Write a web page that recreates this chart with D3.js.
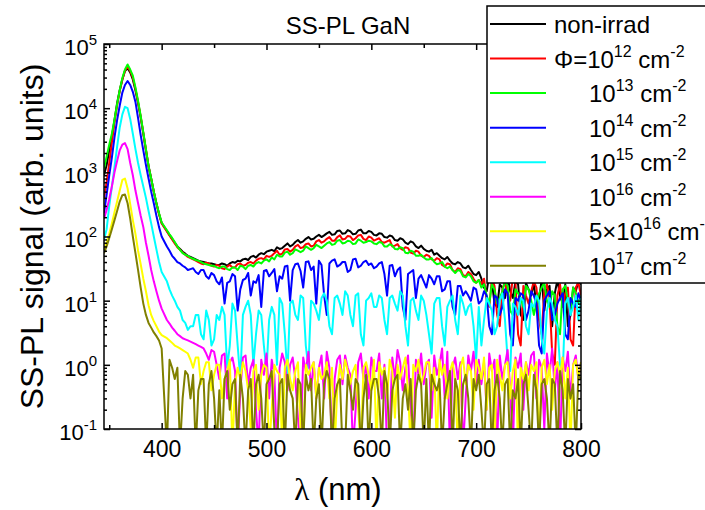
<!DOCTYPE html>
<html>
<head>
<meta charset="utf-8">
<script src="https://cdn.jsdelivr.net/npm/d3@7"></script>
<style>
  body { margin: 0; background: #fff; }
  svg { font-family: "Liberation Sans", Arial, sans-serif; }
</style>
</head>
<body>
<div id="chart"></div>
<script>

// wavelength grid (nm)
var wavelength = [
  345, 347.5, 350, 352.5, 355, 357.5, 360, 362.5, 365, 367.5, 370, 372.5, 375, 377.5, 380, 382.5, 385, 387.5, 390, 392.5, 395, 397.5, 400,
  405, 407.5, 410, 412.5, 415, 417.5, 420, 422.5, 425, 427.5, 430, 432.5, 435, 437.5, 440, 442.5, 445, 447.5, 450, 452.5,
  455, 457.5, 460, 462.5, 465, 467.5, 470, 472.5, 475, 477.5, 480, 482.5, 485, 487.5, 490, 492.5, 495, 497.5, 500, 502.5,
  505, 507.5, 510, 512.5, 515, 517.5, 520, 522.5, 525, 527.5, 530, 532.5, 535, 537.5, 540, 542.5, 545, 547.5, 550, 552.5,
  555, 557.5, 560, 562.5, 565, 567.5, 570, 572.5, 575, 577.5, 580, 582.5, 585, 587.5, 590, 592.5, 595, 597.5, 600, 602.5,
  605, 607.5, 610, 612.5, 615, 617.5, 620, 622.5, 625, 627.5, 630, 632.5, 635, 637.5, 640, 642.5, 645, 647.5, 650, 652.5,
  655, 657.5, 660, 662.5, 665, 667.5, 670, 672.5, 675, 677.5, 680, 682.5, 685, 687.5, 690, 692.5, 695, 697.5, 700, 702.5,
  705, 707.5, 710, 712.5, 715, 717.5, 720, 722.5, 725, 727.5, 730, 732.5, 735, 737.5, 740, 742.5, 745, 747.5, 750, 752.5,
  755, 757.5, 760, 762.5, 765, 767.5, 770, 772.5, 775, 777.5, 780, 782.5, 785, 787.5, 790, 792.5, 795, 797.5, 800
];

// SS-PL signal (arb. units); values under 0.1 are off the bottom of the axis
var nonIrrad = [
  900, 1300, 2200, 3600, 6500, 12000, 19000, 28000, 38000, 42000, 36000, 28000, 19000, 12000, 7200, 4000, 2200, 1250, 800, 500, 330, 225, 162,
  122, 105, 92, 80, 70, 64, 58, 54, 50, 48, 46, 44, 42, 41, 40, 39, 38, 38, 37, 36,
  36, 38, 37, 35, 38, 40, 39, 42, 41, 44, 45, 43, 48, 50, 47, 52, 55, 53, 58, 60,
  62, 59, 68, 64, 66, 72, 78, 70, 74, 82, 88, 80, 84, 92, 98, 90, 92, 100, 106, 98,
  104, 112, 118, 106, 108, 122, 124, 110, 112, 126, 120, 108, 110, 124, 128, 112, 112, 122, 118, 106,
  104, 112, 110, 98, 96, 104, 100, 88, 86, 94, 90, 80, 76, 84, 80, 70, 66, 72, 64, 60,
  58, 62, 52, 55, 50, 46, 44, 48, 42, 38, 37, 40, 38, 33, 32, 35, 30, 26, 25, 28,
  22, 16, 14, 25, 20, 9, 8, 18, 16, 11, 24, 14, 11, 20, 18, 6, 5, 19, 15, 12,
  19, 8, 10, 22, 7, 15, 17, 4, 13, 21, 12, 9, 18, 4, 6, 16, 14, 20, 18
];
var phi12 = [
  400, 700, 1400, 2900, 6000, 11000, 18500, 28000, 38500, 45000, 38000, 30000, 20000, 12500, 7400, 4100, 2250, 1250, 790, 495, 325, 225, 160,
  120, 104, 90, 78, 68, 62, 56, 52, 48, 46, 44, 42, 40, 38, 37, 39, 38, 35, 34, 36,
  35, 32, 31, 34, 36, 33, 33, 37, 38, 35, 36, 39, 40, 38, 42, 45, 46, 44, 50, 48,
  50, 55, 60, 52, 54, 63, 64, 58, 62, 70, 74, 66, 68, 76, 78, 70, 72, 84, 88, 80,
  84, 92, 98, 86, 86, 98, 104, 90, 92, 102, 100, 88, 94, 104, 106, 92, 88, 100, 96, 86,
  90, 94, 82, 80, 84, 88, 70, 72, 76, 66, 62, 68, 66, 56, 54, 60, 58, 50, 48, 52,
  50, 44, 42, 46, 44, 36, 34, 38, 37, 30, 28, 32, 31, 25, 24, 28, 26, 22, 19, 21,
  18, 22, 10, 8, 22, 17, 6, 4, 15, 20, 12, 10, 24, 19, 3, 2, 17, 12, 9, 14,
  20, 16, 5, 3, 14, 18, 11, 1.5, 1, 12, 18, 8, 13, 16, 2.5, 2, 16, 19, 12
];
var phi13 = [
  1150, 1750, 2700, 4000, 6600, 11500, 19000, 29500, 40000, 48000, 40000, 32000, 21000, 13000, 7600, 4200, 2300, 1250, 800, 500, 330, 230, 165,
  125, 108, 95, 82, 70, 62, 55, 52, 50, 47, 45, 43, 42, 40, 38, 37, 36, 35, 35, 33,
  32, 34, 34, 31, 30, 33, 33, 30, 35, 34, 31, 35, 36, 34, 38, 40, 38, 42, 44, 41,
  47, 44, 52, 49, 49, 56, 58, 52, 55, 63, 60, 57, 60, 70, 66, 62, 66, 74, 70, 66,
  72, 78, 82, 74, 76, 86, 88, 78, 80, 86, 84, 76, 78, 90, 86, 80, 82, 86, 84, 78,
  76, 82, 80, 70, 70, 76, 72, 64, 63, 68, 66, 56, 55, 60, 58, 50, 50, 52, 47, 44,
  44, 46, 40, 37, 38, 40, 34, 32, 34, 30, 27, 30, 29, 24, 23, 26, 24, 20, 19, 21,
  16, 18, 12, 9, 18, 15, 9, 11, 14, 20, 17, 7, 6, 15, 13, 11, 8, 17, 15, 10,
  6, 9, 13, 16, 19, 10, 8, 14, 12, 4, 3, 15, 17, 10, 7, 16, 13, 9, 12
];
var phi14 = [
  230, 450, 900, 1700, 3500, 6500, 11000, 17500, 23000, 26500, 23000, 18000, 12500, 7000, 3800, 2200, 1300, 800, 500, 330, 210, 140, 100,
  70, 60, 50, 45, 40, 38, 35, 33, 30, 31, 32, 28, 26, 30, 30, 24, 22, 27, 25, 20,
  18, 23, 9, 19, 20, 26, 24, 7, 15, 21, 22, 27, 12, 20, 19, 25, 8, 29, 30, 24,
  27, 31, 14, 24, 22, 34, 35, 10, 30, 37, 38, 29, 16, 40, 41, 30, 34, 9, 42, 36,
  12, 6, 38, 42, 44, 34, 36, 40, 40, 28, 30, 44, 45, 33, 35, 40, 42, 36, 38, 32,
  34, 38, 40, 26, 12, 35, 36, 24, 30, 33, 8, 5, 26, 28, 30, 11, 22, 25, 20, 16,
  25, 22, 18, 24, 24, 14, 15, 20, 20, 8, 6, 17, 17, 12, 14, 12, 10, 16, 15, 9,
  10, 14, 12, 4, 3, 12, 11, 6, 8, 15, 13, 3, 2, 11, 10, 13, 12, 5, 7, 14,
  12, 9, 2, 1.5, 10, 12, 14, 5, 6, 9, 11, 13, 3, 2.5, 11, 9, 8, 13, 10
];
var phi15 = [
  90, 130, 300, 600, 1200, 2500, 5000, 8000, 10500, 10000, 6800, 4000, 2300, 1400, 900, 600, 400, 250, 160, 100, 63, 40, 28,
  20, 15, 12, 10, 8, 7, 5, 4.5, 3.5, 4, 4, 6, 6, 3, 2.5, 7, 5, 2, 2.5, 6,
  5, 8, 6, 0.9, 2, 9, 7, 2, 0.6, 6, 8, 10, 6, 1, 3, 7, 6, 2, 0.8, 5,
  8, 6, 1, 11, 9, 3, 0.7, 9, 10, 6, 5, 12, 11, 2, 0.9, 10, 9, 7, 5, 11,
  13, 10, 4, 3, 11, 12, 9, 6, 14, 12, 6, 4, 12, 13, 3, 2, 10, 11, 13, 8,
  8, 12, 11, 5, 3, 11, 12, 9, 7, 14, 12, 4, 2, 10, 11, 7, 5, 12, 10, 6,
  3, 1.5, 9, 11, 11, 4, 2, 8, 10, 12, 5, 3, 12, 9, 6, 8, 9, 4, 1.2, 8,
  2, 5, 11, 9, 7, 3, 4, 10, 13, 5, 1.2, 0.8, 9, 8, 6, 11, 10, 4, 3, 9,
  8, 12, 10, 2.5, 1.5, 7, 11, 9, 5, 4, 1, 0.7, 9, 11, 6, 8, 12, 5, 11
];
var phi16 = [
  190, 260, 380, 600, 1000, 1500, 2200, 2700, 2850, 2300, 1400, 900, 520, 330, 210, 140, 80, 50, 30, 20, 14, 10, 7.5,
  5, 4.4, 3.8, 3.4, 3, 2.8, 2.6, 2.5, 2.4, 2.3, 2.2, 2.1, 2.0, 1.9, 1.8, 1.5, 1.2, 1.7, 1.6, 1.0,
  0.6, 1.4, 1.5, 0.3, 1.1, 1.3, 0.8, 0.05, 0.4, 1.3, 1.4, 0.5, 0.9, 1.2, 0.2, 0.05, 1.2, 0.7, 1.5, 0.3,
  1.2, 0.7, 0.05, 0.9, 1.5, 1.1, 0.4, 1.0, 1.3, 0.6, 0.15, 0.05, 1.3, 0.8, 1.6, 0.4, 1.1, 0.3, 0.9, 1.4,
  0.3, 1.6, 0.9, 0.05, 0.6, 1.2, 1.4, 0.5, 1.4, 0.9, 0.7, 0.05, 0.2, 1.1, 1.5, 0.6, 1.0, 0.3, 1.3, 0.8,
  0.8, 1.5, 0.3, 1.0, 0.05, 0.1, 1.3, 0.6, 1.7, 1.1, 0.4, 0.9, 1.4, 0.2, 0.05, 1.2, 0.7, 1.5, 0.5, 1.0,
  1.2, 0.15, 1.4, 0.7, 1.0, 1.8, 0.3, 1.6, 0.05, 0.9, 1.3, 0.6, 1.1, 0.05, 0.3, 1.4, 0.8, 1.6, 0.5, 1.2,
  0.5, 1.1, 0.2, 1.5, 0.8, 1.2, 0.05, 1.4, 0.6, 1.0, 1.7, 0.4, 0.05, 1.3, 0.9, 1.5, 0.2, 1.1, 0.7, 1.4,
  1.6, 0.3, 1.2, 0.9, 0.1, 1.5, 0.7, 1.8, 0.4, 1.1, 0.05, 1.3, 0.8, 1.6, 0.3, 1.0, 1.4, 0.6, 1.1
];
var phi5x16 = [
  60, 80, 110, 160, 240, 350, 520, 760, 800, 560, 320, 180, 110, 60, 37, 22, 14, 8.5, 6, 4.8, 4, 3.3, 2.9,
  2.6, 2.4, 2.2, 2.0, 1.9, 1.8, 1.7, 1.6, 1.5, 1.2, 0.9, 1.3, 1.3, 0.5, 0.8, 1.1, 1.1, 0.4, 0.7, 1.0,
  1.0, 0.3, 0.6, 0.8, 1.2, 0.05, 0.5, 0.9, 0.6, 1.1, 0.8, 0.4, 0.1, 0.8, 1.0, 0.2, 0.7, 1.0, 0.9, 0.05,
  0.2, 1.0, 0.8, 0.7, 0.05, 0.9, 1.2, 0.6, 0.4, 0.8, 1.1, 0.1, 0.05, 1.0, 0.7, 0.9, 1.1, 0.3, 0.9, 0.6,
  0.7, 1.1, 0.3, 0.9, 0.05, 0.4, 1.0, 0.6, 1.2, 0.8, 0.5, 0.8, 1.0, 0.2, 0.05, 0.9, 1.1, 0.7, 0.4, 1.2,
  0.05, 1.1, 0.7, 0.9, 0.3, 1.2, 0.8, 0.15, 1.0, 0.6, 0.9, 1.3, 0.4, 0.05, 1.0, 0.8, 1.2, 0.5, 0.7, 1.1,
  1.1, 0.4, 0.9, 0.05, 1.2, 0.7, 1.0, 0.3, 0.8, 1.1, 0.6, 0.05, 0.9, 1.3, 0.5, 1.0, 0.8, 0.2, 1.2, 0.9,
  0.6, 1.3, 0.2, 0.9, 1.0, 0.05, 1.2, 0.7, 0.4, 1.0, 1.1, 0.3, 0.8, 1.2, 0.05, 0.9, 0.6, 1.1, 0.4, 1.0,
  0.8, 1.1, 0.05, 0.9, 1.2, 0.5, 1.0, 0.2, 0.8, 1.1, 0.7, 1.3, 0.3, 0.9, 0.05, 1.0, 1.2, 0.6, 1.1
];
var phi17 = [
  55, 70, 95, 130, 180, 250, 350, 440, 450, 330, 190, 100, 55, 30, 16, 9, 6, 4.5, 3.8, 3.2, 2.8, 2.4, 1.8,
  0.05, 1.2, 0.9, 0.6, 0.9, 0.05, 0.3, 0.8, 0.7, 0.3, 0.7, 0.05, 0.4, 0.6, 0.6, 0.05, 0.5, 0.8, 0.3, 0.05,
  0.4, 0.05, 0.6, 0.8, 0.2, 0.5, 0.6, 0.05, 0.7, 0.3, 0.05, 0.4, 0.6, 0.05, 0.5, 0.7, 0.3, 0.05, 0.5, 0.6,
  0.8, 0.1, 0.05, 0.5, 0.6, 0.05, 0.7, 0.4, 0.3, 0.05, 0.6, 0.5, 0.05, 0.7, 0.4, 0.6, 0.05, 0.3, 0.5, 0.05,
  0.5, 0.8, 0.6, 0.05, 0.3, 0.5, 0.6, 0.05, 0.05, 0.7, 0.4, 0.2, 0.6, 0.5, 0.05, 0.3, 0.7, 0.05, 0.4, 0.6,
  0.6, 0.3, 0.05, 0.8, 0.5, 0.05, 0.4, 0.6, 0.7, 0.05, 0.3, 0.5, 0.2, 0.6, 0.05, 0.4, 0.7, 0.5, 0.05, 0.6,
  0.05, 0.7, 0.5, 0.4, 0.6, 0.05, 0.3, 0.5, 0.8, 0.05, 0.6, 0.4, 0.05, 0.5, 0.7, 0.3, 0.05, 0.6, 0.4, 0.7,
  0.2, 0.05, 0.5, 0.6, 0.05, 0.4, 0.7, 0.3, 0.05, 0.5, 0.6, 0.05, 0.4, 0.3, 0.6, 0.05, 0.5, 0.7, 0.2, 0.05,
  0.7, 0.4, 0.05, 0.5, 0.6, 0.3, 0.05, 0.6, 0.5, 0.05, 0.8, 0.4, 0.05, 0.6, 0.3, 0.5, 0.05, 0.7, 0.6
];

var seriesValues = [nonIrrad, phi12, phi13, phi14, phi15, phi16, phi5x16, phi17];
var seriesNames = ["non-irrad", "Φ=10^{12} cm^{-2}", "10^{13} cm^{-2}", "10^{14} cm^{-2}",
                   "10^{15} cm^{-2}", "10^{16} cm^{-2}", "5×10^{16} cm^{-2}", "10^{17} cm^{-2}"];
var seriesColors = ["#000000", "#ff0000", "#00ff00", "#0000ff", "#00ffff", "#ff00ff", "#ffff00", "#808000"];

var xTicks = [400, 500, 600, 700, 800];
var xMinorTicks = [350, 450, 550, 650, 750];
var yTicks = [0.1, 1, 10, 100, 1000, 10000, 100000];
var yTickLabels = ["10^{-1}", "10^{0}", "10^{1}", "10^{2}", "10^{3}", "10^{4}", "10^{5}"];

var margin = {top: 44, right: 124, bottom: 81, left: 104};
var width = 705 - margin.left - margin.right,
    height = 510 - margin.top - margin.bottom;

var svg = d3.select("#chart").append("svg")
    .attr("width", 705)
    .attr("height", 510);

var g = svg.append("g")
    .attr("transform", "translate(" + margin.left + "," + margin.top + ")");

var x = d3.scaleLinear().domain([345, 800]).range([0, width]);
var y = d3.scaleLog().domain([0.1, 1e5]).range([height, 0]);

// writes "10^{5}" style strings as tspans with superscripts
function richText(sel, str, size, supSize, raise) {
  var parts = str.split(/(\^\{[^}]*\})/);
  var up = false;
  sel.text(null).style("font-size", size + "px");
  parts.forEach(function(p) {
    if (!p) return;
    if (p.charAt(0) === "^") {
      sel.append("tspan").attr("dy", -raise).style("font-size", supSize + "px").text(p.slice(2, -1));
      up = true;
    } else {
      var t = sel.append("tspan").text(p);
      if (up) { t.attr("dy", raise); up = false; }
    }
  });
}

g.append("clipPath").attr("id", "plotclip")
  .append("rect").attr("width", width).attr("height", height);

var line = d3.line()
  .defined(function(d) { return d[1] != null; })
  .x(function(d) { return x(d[0]); })
  .y(function(d) { return y(Math.max(d[1], 0.01)); });

var plot = g.append("g").attr("clip-path", "url(#plotclip)");
seriesValues.forEach(function(vals, i) {
  var pts = wavelength.map(function(w, j) { return [w, vals[j]]; });
  plot.append("path")
    .datum(pts)
    .attr("d", line)
    .style("fill", "none")
    .style("stroke", seriesColors[i])
    .style("stroke-width", 2)
    .style("stroke-linejoin", "round");
});

// AXES //
var yMinor = y.ticks().filter(function(v) { return yTicks.indexOf(v) < 0; });

function styleAxis(a) {
  a.select(".domain").remove();
  a.selectAll(".tick line").style("stroke", "#000").style("stroke-width", 1.5);
}

g.append("g").attr("transform", "translate(0," + height + ")")
  .call(d3.axisBottom(x).tickValues(xTicks).tickSize(-6).tickPadding(12).tickFormat(d3.format("d")))
  .call(styleAxis)
  .selectAll("text").style("font-size", "23px").style("font-family", "Liberation Sans, Arial, sans-serif").attr("fill", "#000");
g.append("g").attr("transform", "translate(0," + height + ")")
  .call(d3.axisBottom(x).tickValues(xMinorTicks).tickSize(-4).tickFormat(""))
  .call(styleAxis);
g.append("g")
  .call(d3.axisTop(x).tickValues(xTicks).tickSize(-6).tickFormat(""))
  .call(styleAxis);
g.append("g")
  .call(d3.axisTop(x).tickValues(xMinorTicks).tickSize(-4).tickFormat(""))
  .call(styleAxis);

var yAxis = g.append("g")
  .call(d3.axisLeft(y).tickValues(yTicks).tickSize(-6).tickPadding(7).tickFormat(function(d, i) { return yTickLabels[i]; }))
  .call(styleAxis);
yAxis.selectAll("text")
  .attr("dy", "0.47em")
  .attr("fill", "#000")
  .style("font-family", "Liberation Sans, Arial, sans-serif")
  .each(function(d, i) { richText(d3.select(this), yTickLabels[i], 22, 15, 10); });
g.append("g")
  .call(d3.axisLeft(y).tickValues(yMinor).tickSize(-3).tickFormat(""))
  .call(styleAxis);
g.append("g").attr("transform", "translate(" + width + ",0)")
  .call(d3.axisRight(y).tickValues(yTicks).tickSize(-6).tickFormat(""))
  .call(styleAxis);
g.append("g").attr("transform", "translate(" + width + ",0)")
  .call(d3.axisRight(y).tickValues(yMinor).tickSize(-3).tickFormat(""))
  .call(styleAxis);

g.append("rect")
  .attr("width", width).attr("height", height)
  .style("fill", "none").style("stroke", "#000").style("stroke-width", 1.5);

// TITLES //
svg.append("text")
  .attr("x", 348).attr("y", 34)
  .attr("text-anchor", "middle")
  .style("font-size", "24px")
  .text("SS-PL GaN");

var xt = svg.append("text")
  .attr("x", 338).attr("y", 500)
  .attr("text-anchor", "middle")
  .style("font-size", "31px");
xt.append("tspan").style("font-family", "Liberation Serif, serif").text("λ");
xt.append("tspan").text(" (nm)");

svg.append("text")
  .attr("transform", "translate(43," + (margin.top + height / 2) + ") rotate(-90)")
  .attr("text-anchor", "middle")
  .style("font-size", "32px")
  .text("SS-PL signal (arb. units)");

// LEGEND //
var legend = svg.append("g");
legend.append("rect")
  .attr("x", 487).attr("y", 6)
  .attr("width", 240).attr("height", 277)
  .style("fill", "#fff").style("stroke", "#000").style("stroke-width", 1.5);

seriesNames.forEach(function(name, i) {
  var ry = 24 + i * 34.55;
  legend.append("line")
    .attr("x1", 490).attr("x2", 546)
    .attr("y1", ry).attr("y2", ry)
    .style("stroke", seriesColors[i])
    .style("stroke-width", 2);
  var t = legend.append("text")
    .attr("x", i < 2 ? 554 : 589)
    .attr("y", ry + 9);
  richText(t, name, 24, 16, 11);
});

</script>
</body>
</html>
